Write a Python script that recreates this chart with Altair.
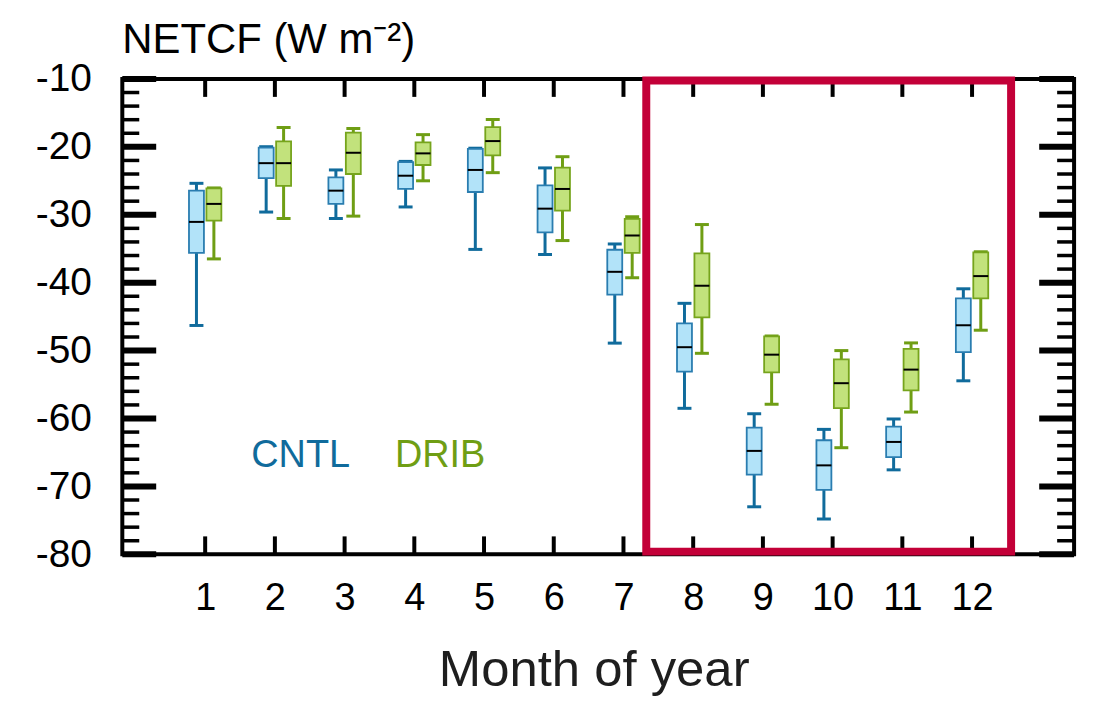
import altair as alt
import pandas as pd

# ---- data ----
months = list(range(1, 13))

cntl_min = [-46.3, -29.6, -30.55, -28.85, -35.1, -35.85, -48.9, -58.5, -73.0, -74.8, -67.56, -54.45]
cntl_q1 = [-35.6, -24.6, -28.4, -26.2, -26.65, -32.6, -41.77, -53.1, -68.25, -70.5, -65.7, -50.23]
cntl_med = [-31.05, -22.4, -26.45, -24.25, -23.4, -29.1, -38.4, -49.5, -64.77, -66.9, -63.45, -46.27]
cntl_q3 = [-26.45, -20.1, -24.5, -22.24, -20.3, -25.66, -35.15, -45.98, -61.35, -63.2, -61.2, -42.3]
cntl_max = [-25.37, -19.98, -23.4, -22.14, -20.2, -23.1, -34.3, -43.04, -59.3, -61.6, -60.07, -40.9]

drib_min = [-36.5, -30.55, -30.2, -25.0, -23.8, -33.8, -39.27, -50.4, -57.9, -64.3, -59.05, -47.0]
drib_q1 = [-30.85, -25.75, -24.0, -22.67, -21.25, -29.4, -35.6, -45.1, -53.2, -58.46, -55.87, -42.3]
drib_med = [-28.4, -22.4, -20.87, -20.96, -19.15, -26.2, -33.05, -40.45, -50.6, -54.8, -52.8, -39.03]
drib_q3 = [-26.1, -19.2, -17.9, -19.35, -17.1, -23.07, -30.6, -35.7, -47.9, -51.3, -49.75, -35.55]
drib_max = [-26.05, -17.15, -17.3, -18.2, -15.97, -21.45, -30.3, -31.44, -47.85, -50.0, -48.87, -35.45]

y_major = [-10, -20, -30, -40, -50, -60, -70, -80]
y_minor = [-12, -14, -16, -18, -22, -24, -26, -28, -32, -34, -36, -38, -42, -44, -46, -48,
           -52, -54, -56, -58, -62, -64, -66, -68, -72, -74, -76, -78]

highlight_x = [7.327, 12.56]
highlight_y = [-10.22, -79.6]

legend_labels = ["CNTL", "DRIB"]
legend_x = [2.37, 4.37]
legend_y = [-67.1, -67.1]
legend_colors = ["#106b9c", "#6f9e14"]

# ---- styling ----
FONT = "Liberation Sans"
W, H = 955, 477
xscale = alt.Scale(domain=[-0.117, 13.392], nice=False, zero=False)
yscale = alt.Scale(domain=[-80, -10], nice=False, zero=False)

xaxis = alt.Axis(values=months, ticks=False, tickSize=0, domain=False, grid=False,
                 labelFont=FONT, labelFontSize=38, labelColor="black", labelPadding=25,
                 labelExpr="'' + datum.value",
                 title="Month of year", titleFont=FONT, titleFontSize=51,
                 titleFontWeight="normal", titleColor="#1e1e1e",
                 titleBaseline="alphabetic", titleX=473, titleY=132)
yaxis = alt.Axis(values=y_major, ticks=False, tickSize=0, domain=False, grid=False,
                 labelFont=FONT, labelFontSize=39, labelColor="black", labelPadding=31,
                 labelExpr="'' + datum.value", title=None)


def X(f):
    return alt.X(f, type="quantitative", scale=xscale, axis=xaxis)


def Y(f):
    return alt.Y(f, type="quantitative", scale=yscale, axis=yaxis)


groups = {
    "CNTL": dict(off=-0.125, mn=cntl_min, q1=cntl_q1, md=cntl_med, q3=cntl_q3, mx=cntl_max,
                 dark="#106b9c", outline="#2a7db0", light="#b2e3f9"),
    "DRIB": dict(off=0.125, mn=drib_min, q1=drib_q1, md=drib_med, q3=drib_q3, mx=drib_max,
                 dark="#6f9e14", outline="#76a41c", light="#c2e27c"),
}

layers = []

# inward axis ticks
ym = pd.DataFrame({"y": y_major})
yn = pd.DataFrame({"y": y_minor})
mt = pd.DataFrame({"x": months})
layers.append(alt.Chart(ym).mark_rule(color="black", strokeWidth=6).encode(
    x=alt.value(0), x2=alt.value(34), y=Y("y")))
layers.append(alt.Chart(yn).mark_rule(color="black", strokeWidth=3.5).encode(
    x=alt.value(0), x2=alt.value(17), y=Y("y")))
layers.append(alt.Chart(ym).mark_rule(color="black", strokeWidth=6).encode(
    x=alt.value(W - 35), x2=alt.value(W), y=Y("y")))
layers.append(alt.Chart(yn).mark_rule(color="black", strokeWidth=3.5).encode(
    x=alt.value(W - 17), x2=alt.value(W), y=Y("y")))
layers.append(alt.Chart(mt).mark_rule(color="black", strokeWidth=4).encode(
    x=X("x"), y=alt.value(0), y2=alt.value(18)))
layers.append(alt.Chart(mt).mark_rule(color="black", strokeWidth=4).encode(
    x=X("x"), y=alt.value(H - 18), y2=alt.value(H)))

# box plots
for name, g in groups.items():
    df = pd.DataFrame({
        "pos": [m + g["off"] for m in months],
        "mn": g["mn"], "q1": g["q1"], "md": g["md"], "q3": g["q3"], "mx": g["mx"],
    })
    base = alt.Chart(df)
    layers.append(base.mark_rule(color=g["dark"], strokeWidth=3).encode(
        x=X("pos"), y=Y("mn"), y2=alt.Y2("mx")))
    layers.append(base.mark_tick(orient="horizontal", size=14, thickness=3,
                                 color=g["dark"], opacity=1).encode(x=X("pos"), y=Y("mn")))
    layers.append(base.mark_tick(orient="horizontal", size=14, thickness=3,
                                 color=g["dark"], opacity=1).encode(x=X("pos"), y=Y("mx")))
    layers.append(base.mark_bar(size=15, fill=g["light"], stroke=g["outline"],
                                strokeWidth=1.8).encode(x=X("pos"), y=Y("q1"), y2=alt.Y2("q3")))
    layers.append(base.mark_tick(orient="horizontal", size=15, thickness=2,
                                 color="black", opacity=1).encode(x=X("pos"), y=Y("md")))

# highlight box
hl = pd.DataFrame({"x": [highlight_x[0]], "x2": [highlight_x[1]],
                   "y": [highlight_y[0]], "y2": [highlight_y[1]]})
layers.append(alt.Chart(hl).mark_rect(fillOpacity=0, stroke="#c30038", strokeWidth=8).encode(
    x=X("x"), x2=alt.X2("x2"), y=Y("y"), y2=alt.Y2("y2")))

# legend texts
lg = pd.DataFrame({"x": legend_x, "y": legend_y, "t": legend_labels, "c": legend_colors})
layers.append(alt.Chart(lg).mark_text(font=FONT, fontSize=38, align="center",
                                      baseline="alphabetic").encode(
    x=X("x"), y=Y("y"), text="t:N", color=alt.Color("c:N", scale=None)))

chart = alt.layer(*layers).properties(
    width=W, height=H,
    autosize=alt.AutoSizeParams(type="none"),
    padding={"left": 114.7, "top": 70, "right": 25, "bottom": 150},
    background="white",
    title=alt.TitleParams(text="NETCF (W m⁻²)", font=FONT, fontSize=42,
                          fontWeight="normal", color="black", anchor="start",
                          frame="group", offset=14, dy=16),
).configure_view(stroke="black", strokeWidth=4)

chart.save("out.html", embed_options={"renderer": "svg", "actions": False})
